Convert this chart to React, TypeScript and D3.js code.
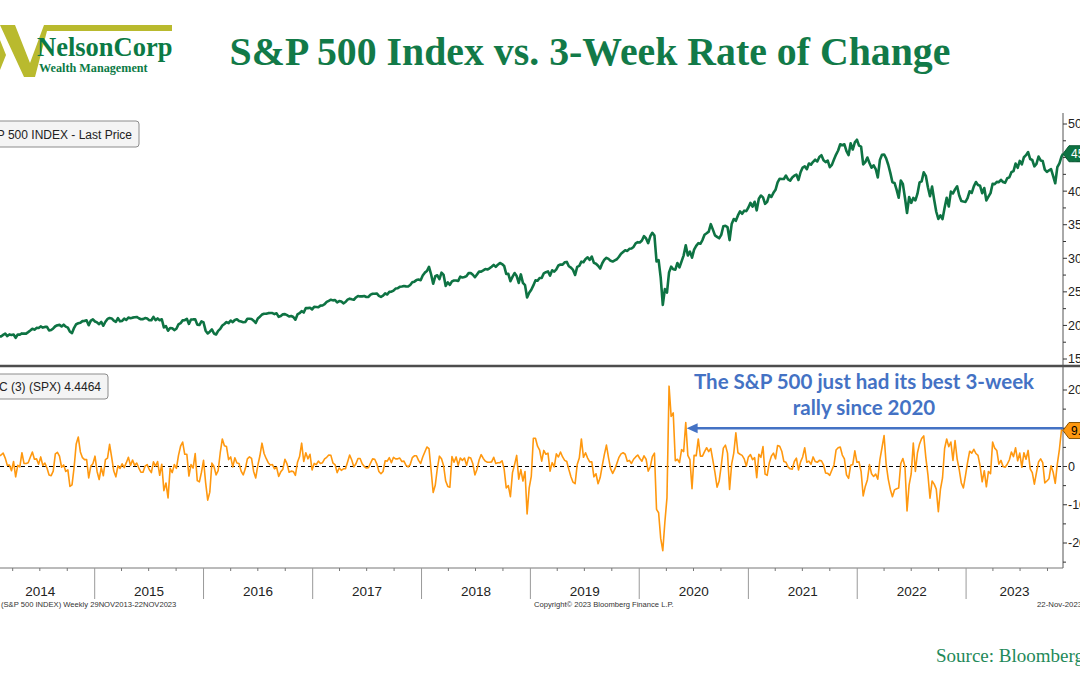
import React from "react";
import * as d3 from "d3";

const W = 1080;
const H = 675;
const START_DATE = "2013-11-29";
const END_DATE = "2023-11-22";

// first weekly observation of each year block
const yearStarts = [
  "2013-11-29", "2014-01-03", "2015-01-02", "2016-01-01", "2017-01-06", "2018-01-05",
  "2019-01-04", "2020-01-03", "2021-01-01", "2022-01-07", "2023-01-06",
];

// S&P 500 weekly last price
const price2013 = [1806, 1805, 1775, 1818, 1841];
const price2014 = [1831, 1842, 1838, 1790, 1783, 1797, 1838, 1836, 1859, 1878, 1841, 1866, 1858, 1865, 1816, 1864, 1863, 1881, 1878, 1878, 1900, 1924, 1950, 1937, 1963, 1961, 1985, 1968, 1978, 1978, 1925, 1931, 1955, 1988, 2003, 2008, 1985, 2011, 1982, 1968, 1906, 1887, 1964, 2018, 2032, 2039, 2064, 2068, 2075, 2003, 2071, 2089];
const price2015 = [2058, 2045, 2019, 2052, 1995, 2055, 2097, 2110, 2104, 2071, 2053, 2108, 2061, 2067, 2102, 2081, 2117, 2108, 2116, 2123, 2126, 2107, 2092, 2094, 2110, 2102, 2077, 2077, 2127, 2079, 2104, 2078, 2092, 1971, 1989, 1921, 1961, 1958, 1931, 1951, 2015, 2033, 2075, 2079, 2099, 2023, 2089, 2090, 2092, 2012, 2006, 2061];
const price2016 = [2044, 1922, 1880, 1907, 1940, 1880, 1865, 1918, 1948, 1999, 2022, 2050, 2035, 2073, 2048, 2081, 2092, 2065, 2057, 2047, 2052, 2099, 2099, 2096, 2071, 2037, 2103, 2130, 2162, 2175, 2174, 2183, 2184, 2184, 2169, 2180, 2128, 2139, 2165, 2168, 2153, 2133, 2141, 2126, 2085, 2164, 2182, 2213, 2192, 2260, 2258, 2263, 2239];
const price2017 = [2277, 2275, 2271, 2295, 2297, 2316, 2351, 2367, 2383, 2373, 2378, 2344, 2363, 2355, 2329, 2349, 2384, 2399, 2390, 2382, 2416, 2439, 2432, 2433, 2438, 2423, 2425, 2459, 2472, 2472, 2476, 2441, 2426, 2443, 2477, 2461, 2500, 2502, 2519, 2549, 2553, 2575, 2581, 2588, 2582, 2579, 2602, 2642, 2652, 2675, 2683, 2674];
const price2018 = [2743, 2786, 2810, 2873, 2762, 2620, 2732, 2747, 2691, 2786, 2752, 2588, 2641, 2604, 2656, 2670, 2670, 2663, 2728, 2713, 2721, 2735, 2779, 2780, 2755, 2718, 2760, 2801, 2802, 2819, 2840, 2833, 2850, 2875, 2902, 2872, 2905, 2930, 2914, 2886, 2767, 2768, 2659, 2723, 2781, 2736, 2633, 2760, 2633, 2600, 2417, 2486];
const price2019 = [2532, 2596, 2671, 2665, 2707, 2708, 2776, 2793, 2804, 2743, 2822, 2801, 2834, 2893, 2907, 2905, 2940, 2946, 2881, 2860, 2826, 2752, 2873, 2887, 2950, 2942, 2990, 3014, 2977, 3026, 2932, 2919, 2889, 2847, 2926, 2979, 3007, 2992, 2962, 2952, 2970, 2986, 3023, 3067, 3093, 3120, 3110, 3141, 3146, 3169, 3221, 3240];
const price2020 = [3235, 3265, 3330, 3295, 3226, 3328, 3380, 3338, 2954, 2972, 2711, 2305, 2541, 2489, 2790, 2875, 2837, 2831, 2930, 2864, 2955, 3044, 3194, 3041, 3098, 3009, 3130, 3185, 3225, 3216, 3271, 3351, 3373, 3397, 3508, 3427, 3341, 3319, 3298, 3348, 3477, 3484, 3465, 3270, 3510, 3585, 3558, 3638, 3699, 3663, 3709, 3703];
const price2021 = [3756, 3825, 3768, 3841, 3714, 3887, 3934, 3907, 3811, 3842, 3943, 3913, 3975, 4020, 4129, 4185, 4180, 4181, 4233, 4174, 4156, 4204, 4230, 4247, 4166, 4281, 4352, 4370, 4327, 4412, 4395, 4437, 4468, 4442, 4509, 4535, 4459, 4433, 4455, 4357, 4391, 4471, 4545, 4605, 4698, 4683, 4698, 4595, 4538, 4712, 4620, 4726, 4766];
const price2022 = [4677, 4663, 4398, 4432, 4501, 4419, 4349, 4385, 4329, 4204, 4463, 4543, 4546, 4488, 4393, 4272, 4132, 4123, 4023, 3901, 4158, 4109, 3901, 3675, 3912, 3825, 3899, 3863, 3962, 4130, 4145, 4280, 4228, 4058, 3924, 4067, 3873, 3693, 3586, 3640, 3583, 3753, 3901, 3771, 3993, 3965, 4026, 4072, 3934, 3852, 3845, 3840];
const price2023 = [3895, 3999, 3973, 4071, 4136, 4090, 4079, 3970, 4046, 3862, 3917, 3971, 4109, 4105, 4138, 4133, 4169, 4136, 4124, 4192, 4205, 4282, 4299, 4410, 4348, 4450, 4399, 4505, 4536, 4582, 4478, 4464, 4370, 4406, 4516, 4457, 4450, 4320, 4288, 4308, 4327, 4224, 4117, 4358, 4415, 4514, 4557];

// 3-week rate of change (%)
const roc2013 = [2.0, 0.4, -1.6, 0.7, 2.0];
const roc2014 = [3.2, 1.3, -0.2, -2.2, -3.2, -2.2, 2.7, 3.0, 3.5, 2.2, 0.3, 0.4, -1.1, 1.3, -2.7, 0.3, -0.1, 3.6, 0.8, 0.8, 1.0, 2.4, 3.8, 1.9, 2.0, 0.6, 2.5, 0.3, 0.9, -0.4, -2.2, -2.4, -1.2, 3.3, 3.7, 2.7, -0.2, 0.4, -1.3, -0.9, -5.2, -4.8, -0.2, 5.9, 7.7, 3.8, 2.3, 1.8, 1.8, -3.0, 0.1, 0.7];
const roc2015 = [2.7, -1.3, -3.4, -0.3, -2.4, 1.8, 2.2, 5.8, 2.4, -1.2, -2.7, 0.2, -0.5, 0.7, -0.3, 1.0, 2.4, 0.3, 1.7, 0.3, 0.9, -0.4, -1.5, -1.5, 0.1, 0.5, -0.8, -1.6, 1.2, 0.1, 1.3, -2.3, 0.6, -6.3, -4.3, -8.2, -0.5, -1.6, 0.5, -0.5, 2.9, 5.3, 6.4, 3.2, 3.2, -2.5, 0.5, -0.4, 3.4, -3.7, -4.0, -1.5];
const roc2016 = [1.6, -4.2, -8.8, -6.7, 0.9, 0.0, -2.2, -1.1, 3.6, 7.2, 5.4, 5.2, 1.8, 2.5, -0.1, 2.3, 0.9, 0.8, -1.2, -2.2, -0.6, 2.0, 2.5, 2.1, -1.3, -3.0, 0.3, 2.8, 6.1, 3.4, 2.1, 1.0, 0.4, 0.5, -0.6, -0.2, -2.6, -1.4, -0.7, 1.9, 0.7, -1.5, -1.2, -1.3, -2.3, 1.1, 2.6, 6.1, 1.3, 3.6, 2.0, 3.2, -0.9];
const roc2017 = [0.8, 0.5, 1.4, 0.8, 1.0, 2.0, 2.4, 3.0, 2.9, 0.9, 0.5, -1.6, -0.4, -1.0, -0.6, -0.6, 1.2, 3.0, 1.7, -0.1, 0.7, 2.1, 2.1, 0.7, 0.0, -0.4, -0.3, 0.9, 2.0, 1.9, 0.7, -1.3, -1.9, -1.3, 1.5, 1.4, 2.3, 1.0, 2.4, 2.0, 2.0, 2.2, 1.3, 1.4, 0.3, -0.1, 0.5, 2.3, 2.8, 2.8, 1.6, 0.8];
const roc2018 = [2.5, 3.8, 5.1, 4.7, -0.9, -6.8, -4.9, -0.5, 2.7, 2.0, 0.2, -3.8, -5.2, -5.4, 2.6, 1.1, 2.5, 0.3, 2.2, 1.6, 2.2, 0.3, 2.4, 2.2, 0.7, -2.2, -0.7, 1.7, 3.1, 2.1, 1.4, 1.1, 1.1, 1.2, 2.4, 0.8, 1.0, 1.0, 1.5, -0.7, -5.6, -5.0, -7.9, -1.6, 0.5, 2.9, -3.3, -0.8, -3.8, -1.3, -12.4, -5.6];
const roc2019 = [-2.6, 7.4, 7.4, 5.3, 4.3, 1.4, 4.2, 3.2, 3.5, -1.2, 1.0, -0.1, 3.3, 2.5, 3.8, 2.5, 1.6, 1.3, -0.8, -2.7, -4.1, -4.5, 0.5, 2.2, 7.2, 2.4, 3.6, 2.2, 1.2, 1.2, -2.7, -1.9, -4.5, -2.9, 0.2, 3.1, 5.6, 2.3, -0.6, -1.8, -0.7, 0.8, 2.4, 3.3, 3.6, 3.2, 1.4, 1.6, 0.8, 1.9, 2.5, 3.0];
const roc2020 = [2.1, 1.4, 2.8, 1.9, -1.2, -0.1, 2.6, 3.5, -11.2, -12.1, -18.8, -22.0, -14.5, -8.2, 21.0, 13.1, 14.0, 1.5, 1.9, 1.0, 4.4, 3.9, 11.5, 2.9, 1.8, -5.8, 2.9, 2.8, 7.2, 2.7, 2.7, 3.9, 4.9, 3.9, 4.7, 1.6, -1.6, -5.4, -3.8, 0.2, 4.8, 5.6, 3.5, -6.0, 0.7, 3.5, 8.8, 3.6, 3.2, 2.9, 2.0, 0.1];
const roc2021 = [2.5, 3.1, 1.8, 2.3, -2.9, 3.2, 2.4, 5.2, -2.0, -2.3, 0.9, 2.7, 3.5, 2.0, 5.5, 5.3, 4.0, 1.3, 1.1, -0.1, -0.6, -0.7, 1.3, 2.2, -0.9, 1.2, 2.5, 4.9, 1.1, 1.4, 0.6, 2.5, 1.3, 1.1, 1.6, 1.5, 0.4, -1.7, -1.8, -2.3, -0.9, 0.4, 4.3, 4.9, 5.1, 3.0, 2.0, -2.2, -3.1, 0.3, 0.5, 4.1, 1.1];
const roc2022 = [1.2, -1.3, -7.7, -5.2, -3.5, 0.5, -1.9, -2.6, -2.0, -3.3, 1.8, 4.9, 8.1, 0.6, -3.3, -6.0, -7.9, -6.1, -5.8, -5.6, 0.8, 2.1, 0.0, -11.6, -4.8, -1.9, 6.1, -1.3, 3.6, 5.9, 7.3, 8.0, 2.4, -2.1, -8.3, -3.8, -4.6, -5.9, -11.8, -6.0, -3.0, 4.7, 7.2, 5.2, 6.4, 1.6, 6.8, 2.0, -0.8, -4.3, -5.6, -2.4];
const roc2023 = [1.1, 4.0, 3.5, 4.5, 3.4, 2.9, 0.2, -4.0, -1.1, -5.3, -1.3, -1.9, 6.4, 4.8, 4.2, 0.6, 1.6, 0.0, -0.2, 0.6, 1.7, 3.8, 2.6, 4.9, 1.5, 3.5, -0.2, 3.6, 1.9, 4.2, -0.6, -1.6, -4.6, -1.6, 1.2, 2.0, 1.0, -4.3, -3.8, -3.2, 0.2, -1.5, -4.4, 0.7, 4.5, 9.6, 9.4];

const priceYears = [price2013, price2014, price2015, price2016, price2017, price2018, price2019, price2020, price2021, price2022, price2023];
const rocYears = [roc2013, roc2014, roc2015, roc2016, roc2017, roc2018, roc2019, roc2020, roc2021, roc2022, roc2023];

const yearLabels = ["2014", "2015", "2016", "2017", "2018", "2019", "2020", "2021", "2022", "2023"];
const priceTicks = [1500, 2000, 2500, 3000, 3500, 4000, 4500, 5000];
const priceMinorTicks = [1750, 2250, 2750, 3250, 3750, 4250, 4750];
const rocTicks = [-20, -10, 0, 10, 20];
const rocMinorTicks = [-25, -15, -5, 5, 15];

const lastPriceLabel = "4557.03";
const lastRocLabel = "9.4";
const annotationLines = ["The S&P 500 just had its best 3-week", "rally since 2020"];
const arrowFromDate = "2023-11-22";
const arrowToDate = "2020-06-08";
const arrowLevel = 10.0;

type Pt = { date: Date; value: number };
const parse = d3.timeParse("%Y-%m-%d");

function buildSeries(years: number[][]): Pt[] {
  const out: Pt[] = [];
  years.forEach((vals, yi) => {
    const s = parse(yearStarts[yi]) as Date;
    vals.forEach((v, i) => out.push({ date: d3.timeDay.offset(s, 7 * i), value: v }));
  });
  out[out.length - 1].date = parse(END_DATE) as Date;
  return out;
}

const AXIS_FONT = "'Liberation Sans', Arial, sans-serif";

export default function App() {
  const priceData = buildSeries(priceYears);
  const rocData = buildSeries(rocYears);
  const start = parse(START_DATE) as Date;
  const end = parse(END_DATE) as Date;

  const plotRight = 1063;
  const x = d3.scaleTime().domain([start, end]).range([-24, plotRight]);
  const yP = d3.scaleLinear().domain([1500, 5000]).range([359, 124]);
  const yR = d3.scaleLinear().domain([-20, 20]).range([543, 390]);

  const priceLine = d3.line<Pt>().x((d) => x(d.date)).y((d) => yP(d.value));
  const rocLine = d3.line<Pt>().x((d) => x(d.date)).y((d) => yR(d.value));

  const axisY = 568;
  const yearBounds = yearLabels.map((y) => {
    const a = new Date(+y, 0, 1);
    const b = new Date(+y + 1, 0, 1);
    const lo = Math.max(x(a), x(start));
    const hi = Math.min(x(b), x(end));
    return { label: y, sep: x(a), center: (lo + hi) / 2 };
  });
  const quarterTicks = d3.timeMonth.every(3)!.range(start, end).filter((d) => d.getMonth() !== 0);

  const lastP = priceData[priceData.length - 1];
  const lastR = rocData[rocData.length - 1];
  const pY = yP(lastP.value);
  const rY = yR(lastR.value);
  const arrowY = yR(arrowLevel);
  const arrowX1 = x(parse(arrowFromDate) as Date);
  const arrowX2 = x(parse(arrowToDate) as Date);

  const tag = (cy: number) =>
    `M${plotRight},${cy} L${plotRight + 6},${cy - 8} L${plotRight + 30},${cy - 8} L${plotRight + 30},${cy + 8} L${plotRight + 6},${cy + 8} Z`;

  return (
    <div style={{ position: "absolute", left: 0, top: 0, width: W, height: H, background: "#fff" }}>
      <svg width={W} height={H} style={{ display: "block" }}>
        <rect x={0} y={0} width={W} height={H} fill="#fff" />

        {/* logo */}
        <polygon points="0,25 15,25 30,63 44,25 172,25 172,31 47,31 35,77 24,77" fill="#b9ba2e" />
        <polygon points="0,40 6,55 0,70" fill="#b9ba2e" />
        <text x={37} y={56} fontFamily="'Liberation Serif', 'Times New Roman', serif" fontWeight="bold" fontSize={26.5} fill="#0b7a45">
          NelsonCorp
        </text>
        <text x={39} y={72} fontFamily="'Liberation Serif', 'Times New Roman', serif" fontWeight="bold" fontSize={12.2} fill="#0b7a45">
          Wealth Management
        </text>

        {/* title */}
        <text x={590} y={65} textAnchor="middle" fontFamily="'Liberation Serif', 'Times New Roman', serif" fontWeight="bold" fontSize={39.8} fill="#127a48">
          S&amp;P 500 Index vs. 3-Week Rate of Change
        </text>

        {/* panel separator */}
        <line x1={0} x2={W} y1={366} y2={366} stroke="#4d4d4d" strokeWidth={2.5} />

        {/* right axis line */}
        <line x1={plotRight} x2={plotRight} y1={113} y2={axisY} stroke="#555" strokeWidth={1} />

        {/* price axis ticks */}
        {priceTicks.map((t) => (
          <g key={"pt" + t}>
            <line x1={plotRight} x2={plotRight + 4} y1={yP(t)} y2={yP(t)} stroke="#333" />
            <text x={plotRight + 5} y={yP(t)} dy="0.35em" fontFamily={AXIS_FONT} fontSize={12.5} fill="#222">
              {t}
            </text>
          </g>
        ))}
        {priceMinorTicks.map((t) => (
          <line key={"pm" + t} x1={plotRight} x2={plotRight + 3} y1={yP(t)} y2={yP(t)} stroke="#333" />
        ))}

        {/* roc axis ticks */}
        {rocTicks.map((t) => (
          <g key={"rt" + t}>
            <line x1={plotRight} x2={plotRight + 4} y1={yR(t)} y2={yR(t)} stroke="#333" />
            <text x={plotRight + 5} y={yR(t)} dy="0.35em" fontFamily={AXIS_FONT} fontSize={12.5} fill="#222">
              {t}
            </text>
          </g>
        ))}
        {rocMinorTicks.map((t) => (
          <line key={"rm" + t} x1={plotRight} x2={plotRight + 3} y1={yR(t)} y2={yR(t)} stroke="#333" />
        ))}

        {/* zero line */}
        <line x1={0} x2={plotRight} y1={yR(0)} y2={yR(0)} stroke="#000" strokeWidth={1} strokeDasharray="4,3" />

        {/* series */}
        <path d={priceLine(priceData) || ""} fill="none" stroke="#0e7343" strokeWidth={2.6} strokeLinejoin="round" />
        <path d={rocLine(rocData) || ""} fill="none" stroke="#ff980f" strokeWidth={1.6} strokeLinejoin="round" />

        {/* legends */}
        <rect x={-10} y={121} width={149} height={26} rx={3} fill="#f4f4f4" stroke="#8c8c8c" />
        <text x={132} y={139} textAnchor="end" fontFamily={AXIS_FONT} fontSize={12} fill="#222">
          S&amp;P 500 INDEX - Last Price
        </text>
        <rect x={-10} y={374} width={118} height={25} rx={3} fill="#f4f4f4" stroke="#8c8c8c" />
        <text x={101} y={391} textAnchor="end" fontFamily={AXIS_FONT} fontSize={12} fill="#222">
          ROC (3) (SPX) 4.4464
        </text>

        {/* annotation */}
        <line x1={arrowX1} x2={arrowX2 + 8} y1={arrowY} y2={arrowY} stroke="#4472c4" strokeWidth={2.5} />
        <polygon
          points={`${arrowX2},${arrowY} ${arrowX2 + 11},${arrowY - 5} ${arrowX2 + 11},${arrowY + 5}`}
          fill="#4472c4"
        />
        {annotationLines.map((l, i) => (
          <text key={l} x={864} y={389 + i * 25.5} textAnchor="middle" fontFamily="Lato, 'Open Sans', sans-serif" fontWeight="bold" fontSize={20.5} fill="#4472c4">
            {l}
          </text>
        ))}

        {/* last value tags */}
        <path d={tag(pY)} fill="#0e7343" stroke="#0a5a33" />
        <text x={plotRight + 8} y={pY} dy="0.36em" fontFamily={AXIS_FONT} fontSize={12} fill="#fff">
          {lastPriceLabel}
        </text>
        <path d={tag(rY)} fill="#ff980f" stroke="#8a5200" />
        <text x={plotRight + 8} y={rY} dy="0.36em" fontFamily={AXIS_FONT} fontSize={12} fill="#000">
          {lastRocLabel}
        </text>

        {/* x axis */}
        <line x1={0} x2={plotRight} y1={axisY} y2={axisY} stroke="#777" />
        {quarterTicks.map((d, i) => (
          <line key={"q" + i} x1={x(d)} x2={x(d)} y1={axisY} y2={axisY + 3} stroke="#777" />
        ))}
        {yearBounds.map((b) => (
          <g key={b.label}>
            {b.sep > 0 && <line x1={b.sep} x2={b.sep} y1={axisY} y2={599} stroke="#999" />}
            <text x={b.center} y={596} textAnchor="middle" fontFamily={AXIS_FONT} fontSize={13.5} fill="#222">
              {b.label}
            </text>
          </g>
        ))}

        {/* footer */}
        <text x={1} y={607} fontFamily={AXIS_FONT} fontSize={7.6} fill="#333">
          (S&amp;P 500 INDEX)  Weekly 29NOV2013-22NOV2023
        </text>
        <text x={534} y={607} fontFamily={AXIS_FONT} fontSize={7.6} fill="#333">
          Copyright© 2023 Bloomberg Finance L.P.
        </text>
        <text x={1037} y={607} fontFamily={AXIS_FONT} fontSize={7.8} fill="#333">
          22-Nov-2023 09:47:28
        </text>

        {/* source */}
        <text x={936} y={662} fontFamily="'Liberation Serif', 'Times New Roman', serif" fontSize={19} fill="#1f8a5a">
          Source: Bloomberg
        </text>
      </svg>
    </div>
  );
}
